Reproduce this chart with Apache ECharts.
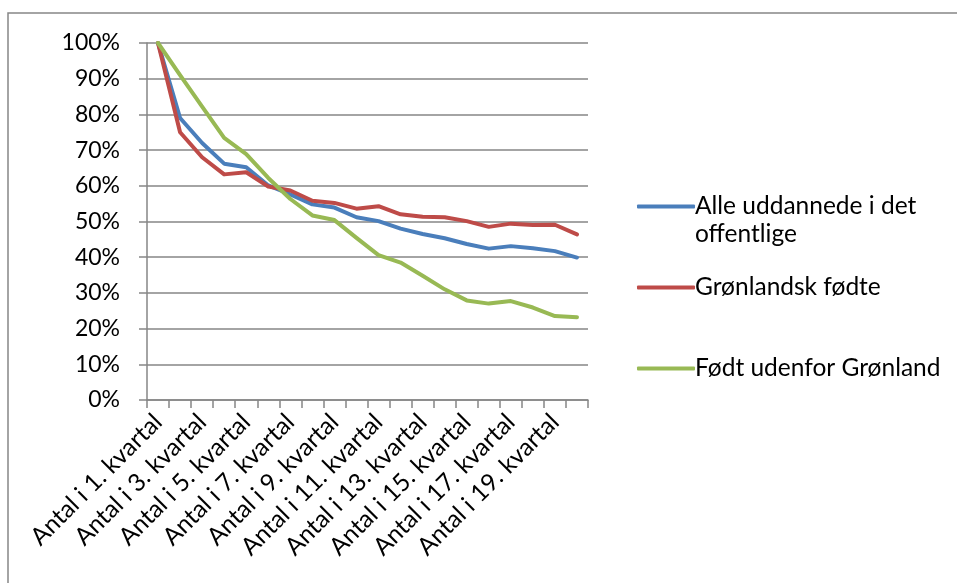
<!DOCTYPE html>
<html><head><meta charset="utf-8">
<script src="https://cdn.jsdelivr.net/npm/echarts@6/dist/echarts.min.js"></script>
<style>html,body{margin:0;padding:0;background:#fff}#c{width:957px;height:583px}</style>
</head><body><div id="c"></div>
<script>
const categories = [];
for (let i = 1; i <= 20; i++) categories.push('Antal i ' + i + '. kvartal');
const yTicks = [0,10,20,30,40,50,60,70,80,90,100];
const seriesNames = ['Alle uddannede i det offentlige', 'Grønlandsk fødte', 'Født udenfor Grønland'];
const alle = [100,79.0,72.0,66.2,65.2,60.1,57.6,54.8,53.9,51.2,50.1,48.0,46.5,45.3,43.7,42.4,43.1,42.5,41.7,39.9];
const gron = [100,75.0,68.0,63.2,63.8,59.8,58.7,55.8,55.2,53.6,54.3,52.0,51.3,51.2,50.1,48.5,49.4,49.0,49.1,46.4];
const udenfor = [100,91.0,82.2,73.4,68.9,62.2,56.3,51.7,50.4,45.4,40.6,38.5,34.8,31.0,27.9,27.0,27.7,25.9,23.5,23.2];
const colors = ['#4A7EBB','#BE4B48','#98B954'];

const chart = echarts.init(document.getElementById('c'));
const font = 'Lato, "Open Sans", sans-serif';
const mk = (name, data, color) => ({
  name, type: 'line', data, symbol: 'none', smooth: false,
  lineStyle: {color, width: 4, cap: 'round', join: 'round'}, itemStyle: {color}
});
const legendBase = (name, top, fmt) => ({
  data: [name], orient: 'vertical', left: 632, top, itemWidth: 58, itemHeight: 4, itemGap: 0,
  icon: 'roundRect', formatter: fmt || '{name}',
  textStyle: {fontFamily: font, fontSize: 24.5, color: '#000', padding: [0,0,0,-5]}
});
chart.setOption({
  animation: false,
  textStyle: {fontFamily: font},
  graphic: [
    {type: 'rect', shape: {x: 8, y: 13, width: 1000, height: 1000}, style: {fill: 'none', stroke: '#868686', lineWidth: 1.5}, silent: true, z: -1},
    {type: 'text', left: 695, top: 222, style: {text: 'offentlige', font: '24.5px ' + font, fill: '#000'}}
  ],
  legend: [
    legendBase(seriesNames[0], 189, () => 'Alle uddannede i det'),
    legendBase(seriesNames[1], 270),
    legendBase(seriesNames[2], 351)
  ],
  grid: {left: 147, right: 369, top: 43, bottom: 183, containLabel: false},
  xAxis: {
    type: 'category', data: categories, boundaryGap: true,
    axisLine: {lineStyle: {color: '#868686', width: 1.5}},
    axisTick: {show: true, length: 8, lineStyle: {color: '#868686', width: 1.5}, interval: 0},
    axisLabel: {interval: 1, rotate: 45, fontSize: 24.5, color: '#000', fontFamily: font, margin: 18}
  },
  yAxis: {
    type: 'value', min: 0, max: 100, interval: 10,
    axisLine: {show: true, lineStyle: {color: '#868686', width: 1.5}},
    axisTick: {show: true, length: 8, lineStyle: {color: '#868686', width: 1.5}},
    splitLine: {lineStyle: {color: '#868686', width: 1.5}},
    axisLabel: {formatter: v => yTicks.includes(v) ? v + '%' : '', fontSize: 23, color: '#000', fontFamily: font, margin: 27}
  },
  series: [mk(seriesNames[0], alle, colors[0]), mk(seriesNames[1], gron, colors[1]), mk(seriesNames[2], udenfor, colors[2])]
});
</script></body></html>
